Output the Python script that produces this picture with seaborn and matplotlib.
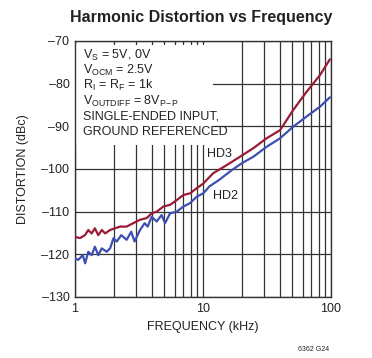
import matplotlib
matplotlib.use('Agg')
import matplotlib.pyplot as plt
import seaborn as sb
import pandas as pd
from matplotlib.patches import Rectangle
from matplotlib.ticker import LogLocator, NullFormatter, FixedLocator

# values
hd3_freq = [1.0, 1.094, 1.197, 1.27, 1.35, 1.43, 1.52, 1.62, 1.72, 1.88, 2.05, 2.25, 2.53,
            2.85, 3.22, 3.63, 3.97, 4.35, 4.9, 5.53, 6.23, 7.02, 7.92, 8.93, 10.06,
            12.0, 15.3, 19.5, 24.8, 31.4, 40.0, 50.6, 64.5, 82.0, 98.0]
hd3_dbc = [-115.9, -116.2, -115.5, -114.3, -115.1, -113.9, -115.5, -114.3, -115.1, -114.3,
           -113.9, -113.5, -113.5, -112.7, -111.9, -111.5, -110.4, -110.0, -108.8, -108.4,
           -107.3, -106.1, -105.7, -104.5, -103.4,
           -101.0, -99.1, -97.1, -95.1, -92.8, -90.9, -86.2, -81.9, -78.0, -74.3]

hd2_freq = [1.0, 1.06, 1.15, 1.2, 1.27, 1.35, 1.43, 1.52, 1.62, 1.77, 1.88, 2.0, 2.12, 2.3,
            2.53, 2.75, 2.92, 3.22, 3.5, 3.7, 3.97, 4.35, 4.75, 5.05, 5.53, 6.23, 7.02,
            7.92, 8.93, 10.06, 11.2, 13.3, 16.9, 20.0, 24.8, 31.4, 40.0, 50.6, 64.5, 82.0, 98.0]
hd2_dbc = [-120.9, -121.3, -120.2, -122.1, -119.4, -120.2, -118.2, -120.2, -118.6, -119.4,
           -118.6, -116.2, -117.0, -115.5, -116.6, -114.7, -117.0, -114.3, -112.7, -113.5,
           -111.2, -112.3, -110.8, -112.7, -110.4, -110.0, -108.8, -108.0, -106.5, -105.7,
           -104.1, -102.6, -100.2, -98.7, -97.1, -94.8, -92.8, -90.1, -87.7, -85.4, -83.2]

x_ticks = [1, 10, 100]
x_tick_labels = ['1', '10', '100']
y_ticks = [-130, -120, -110, -100, -90, -80, -70]

conditions = [
    r'$\mathregular{V_S}$ = 5V, 0V',
    r'$\mathregular{V_{OCM}}$ = 2.5V',
    r'$\mathregular{R_I}$ = $\mathregular{R_F}$ = 1k',
    r'$\mathregular{V_{OUTDIFF}}$ = 8V$\mathregular{_{P}}$$\mathregular{_{-}}$$\mathregular{_{P}}$',
    'SINGLE-ENDED INPUT,',
    'GROUND REFERENCED',
]

sb.set_style('white')
plt.rcParams['font.family'] = ['Liberation Sans Narrow', 'Liberation Sans', 'DejaVu Sans']

fig = plt.figure(figsize=(3.72, 3.58), dpi=100, facecolor='w')
ax = fig.add_axes([0.2016, 0.1704, 0.6882, 0.7151])

df3 = pd.DataFrame({'f': hd3_freq, 'd': hd3_dbc})
df2 = pd.DataFrame({'f': hd2_freq, 'd': hd2_dbc})
sb.lineplot(data=df3, x='f', y='d', ax=ax, color='#9b1b35', lw=1.6, estimator=None, zorder=3)
sb.lineplot(data=df2, x='f', y='d', ax=ax, color='#3d4fb0', lw=1.6, estimator=None, zorder=3)

ax.set_xscale('log')
ax.set_xlim(1, 100)
ax.set_ylim(-130, -70)
ax.xaxis.set_major_locator(FixedLocator(x_ticks))
ax.set_xticklabels(x_tick_labels)
ax.xaxis.set_minor_locator(LogLocator(base=10, subs=range(2, 10)))
ax.xaxis.set_minor_formatter(NullFormatter())
ax.set_yticks(y_ticks)
ax.set_yticklabels([f'\u2013{abs(v)}' for v in y_ticks])
ax.tick_params(axis='both', which='both', length=0, labelsize=9, pad=4, labelcolor='#222222')
ax.grid(True, which='both', color='#333333', lw=0.9)
ax.set_axisbelow(True)
for s in ax.spines.values():
    s.set_color('#333333')
    s.set_linewidth(1.0)

# white panel behind the conditions text
ax.add_patch(Rectangle((0.0, 0.594), 0.54, 0.39, transform=ax.transAxes,
                       facecolor='white', edgecolor='none', zorder=1))

y0 = 0.945
for i, line in enumerate(conditions):
    ax.text(0.03, y0 - i * 0.06, line, transform=ax.transAxes, fontsize=9,
            va='center', ha='left', color='#222222', zorder=4)

ax.text(10.8, -96.5, 'HD3', fontsize=9, color='#222222', va='center', ha='left', zorder=4)
ax.text(11.9, -106.3, 'HD2', fontsize=9, color='#222222', va='center', ha='left', zorder=4)

ax.set_xlabel('FREQUENCY (kHz)', fontsize=9, color='#222222', labelpad=5)
ax.set_ylabel('DISTORTION (dBc)', fontsize=9, color='#222222', labelpad=9)

fig.text(0.54, 0.952, 'Harmonic Distortion vs Frequency', fontsize=11.5, fontweight='bold',
         ha='center', va='center', color='#222222')
fig.text(0.885, 0.025, '6362 G24', fontsize=5, ha='right', va='center', color='#222222')

plt.savefig('out.png', dpi=100, facecolor='w')
